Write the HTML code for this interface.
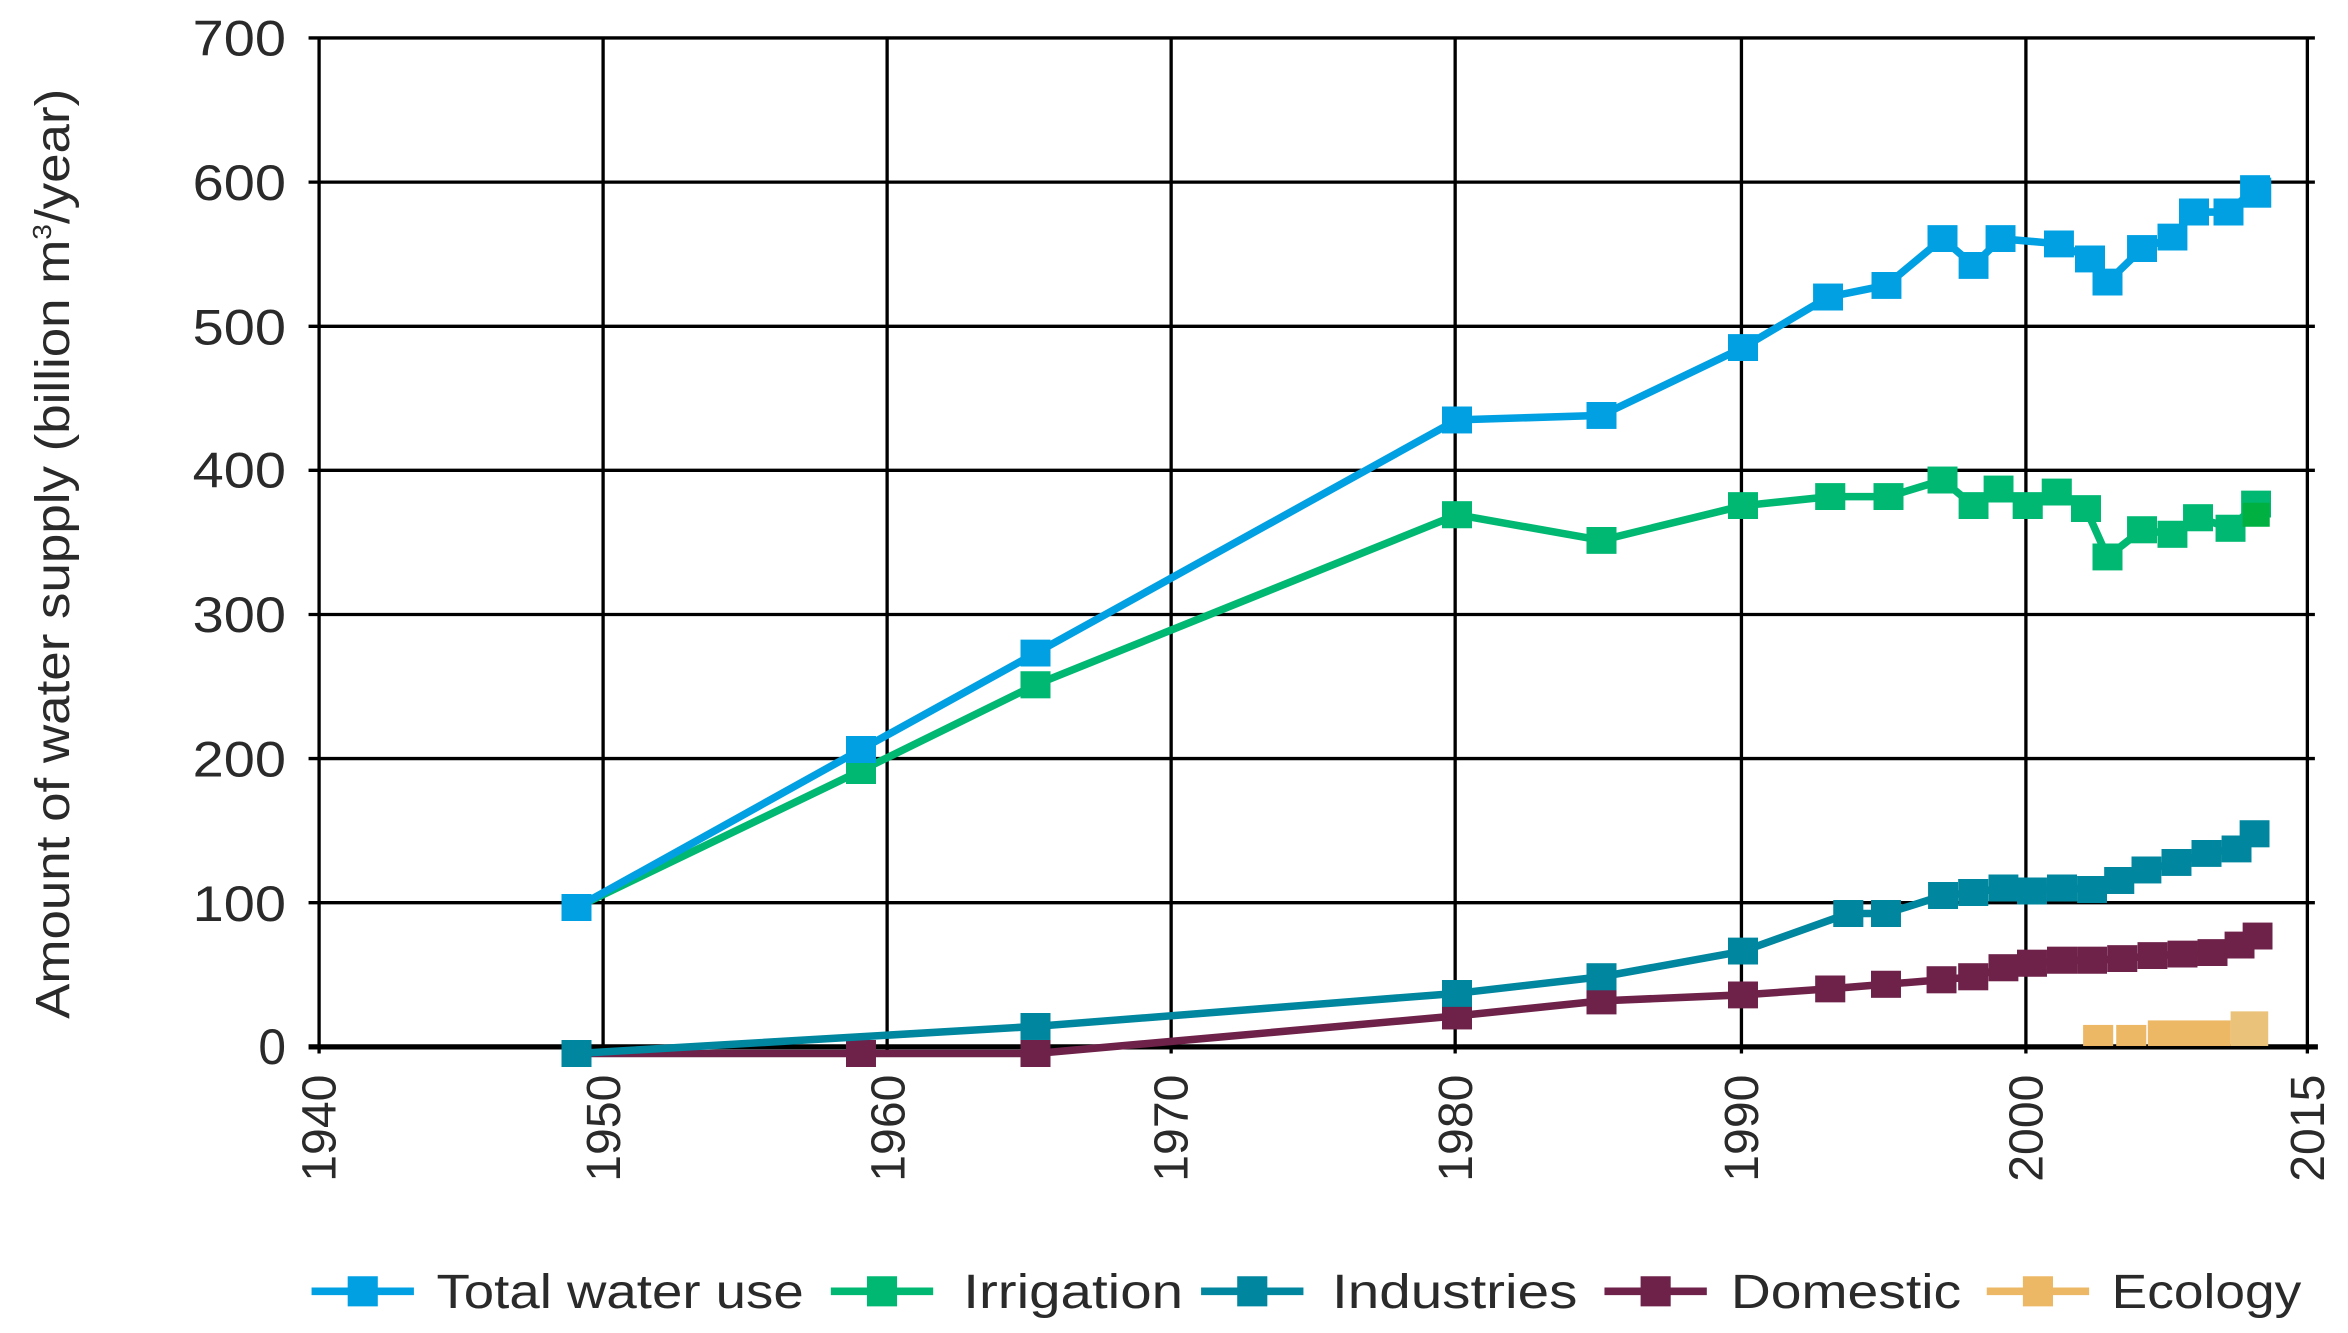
<!DOCTYPE html>
<html><head><meta charset="utf-8"><style>
html,body{margin:0;padding:0;background:#fff;}
svg{display:block;}
text{font-family:"Liberation Sans Narrow","Liberation Sans",sans-serif;fill:#2a2a2a;}
</style></head><body>
<svg width="2348" height="1333" viewBox="0 0 1560 885.7" preserveAspectRatio="none">
<defs>
<marker id="mb" viewBox="0 0 20 18" refX="10" refY="9" markerWidth="20" markerHeight="18" markerUnits="userSpaceOnUse"><rect width="20" height="18" fill="#00a0e3"/></marker>
<marker id="mg" viewBox="0 0 20 18" refX="10" refY="9" markerWidth="20" markerHeight="18" markerUnits="userSpaceOnUse"><rect width="20" height="18" fill="#00b872"/></marker>
<marker id="mi" viewBox="0 0 20 18" refX="10" refY="9" markerWidth="20" markerHeight="18" markerUnits="userSpaceOnUse"><rect width="20" height="18" fill="#00869e"/></marker>
<marker id="md" viewBox="0 0 20 18" refX="10" refY="9" markerWidth="20" markerHeight="18" markerUnits="userSpaceOnUse"><rect width="20" height="18" fill="#6e2249"/></marker>
</defs>
<g stroke="#000" stroke-width="2.2">
<line x1="205" y1="25.2" x2="1538" y2="25.2"/>
<line x1="205" y1="121" x2="1538" y2="121"/>
<line x1="205" y1="216.8" x2="1538" y2="216.8"/>
<line x1="205" y1="312.5" x2="1538" y2="312.5"/>
<line x1="205" y1="408.3" x2="1538" y2="408.3"/>
<line x1="205" y1="504" x2="1538" y2="504"/>
<line x1="205" y1="599.8" x2="1538" y2="599.8"/>
<line x1="212" y1="25.2" x2="212" y2="700"/>
<line x1="400.7" y1="25.2" x2="400.7" y2="700"/>
<line x1="589.4" y1="25.2" x2="589.4" y2="700"/>
<line x1="778.1" y1="25.2" x2="778.1" y2="700"/>
<line x1="966.8" y1="25.2" x2="966.8" y2="700"/>
<line x1="1157" y1="25.2" x2="1157" y2="700"/>
<line x1="1346" y1="25.2" x2="1346" y2="700"/>
<line x1="1533" y1="25.2" x2="1533" y2="700"/>
</g>
<line x1="205" y1="695.6" x2="1540" y2="695.6" stroke="#000" stroke-width="3.5"/>
<g font-size="33" text-anchor="end">
<text x="190" y="37" textLength="62" lengthAdjust="spacingAndGlyphs">700</text><text x="190" y="133" textLength="62" lengthAdjust="spacingAndGlyphs">600</text><text x="190" y="229" textLength="62" lengthAdjust="spacingAndGlyphs">500</text>
<text x="190" y="324" textLength="62" lengthAdjust="spacingAndGlyphs">400</text><text x="190" y="420" textLength="62" lengthAdjust="spacingAndGlyphs">300</text><text x="190" y="516" textLength="62" lengthAdjust="spacingAndGlyphs">200</text>
<text x="190" y="612" textLength="62" lengthAdjust="spacingAndGlyphs">100</text><text x="190" y="707">0</text>
</g>
<text font-size="32" text-anchor="middle" transform="translate(46,368) rotate(-90)" textLength="618" lengthAdjust="spacingAndGlyphs">Amount of water supply (billion m<tspan font-size="17" dy="-12">3</tspan><tspan dy="12">/year)</tspan></text>
<g font-size="32" text-anchor="end">
<text transform="translate(223,714) rotate(-90)">1940</text>
<text transform="translate(412,714) rotate(-90)">1950</text>
<text transform="translate(601,714) rotate(-90)">1960</text>
<text transform="translate(789,714) rotate(-90)">1970</text>
<text transform="translate(978,714) rotate(-90)">1980</text>
<text transform="translate(1168,714) rotate(-90)">1990</text>
<text transform="translate(1357,714) rotate(-90)">2000</text>
<text transform="translate(1544,714) rotate(-90)">2015</text>
</g>
<g fill="none" stroke-width="5" stroke-linejoin="round">
<polyline stroke="#6e2249" marker-start="url(#md)" marker-mid="url(#md)" marker-end="url(#md)" points="383,700 572,700 688,700 968,675 1064,665 1158,661 1216,657 1253,654 1290,651 1311,649 1331,643 1350,640 1370,638 1390,638 1410,637 1430,635 1450,634 1470,633 1488,628 1500,622"/>
<polyline stroke="#00869e" marker-start="url(#mi)" marker-mid="url(#mi)" marker-end="url(#mi)" points="383,700 688,682 968,660 1064,649 1158,632 1228,607 1253,607 1291,595 1311,593 1331,590 1350,592 1370,590 1390,591 1408,585 1426,578 1446,573 1466,567 1486,564 1498,554"/>
<polyline stroke="#00b872" marker-start="url(#mg)" marker-mid="url(#mg)" marker-end="url(#mg)" points="383,603 572,512 688,455 968,342 1064,359 1158,336 1216,330 1254.7,330 1290.6,319 1311.3,336 1327.9,325 1347.2,336 1366.5,327 1385.9,338 1400.2,370 1423.2,352 1443.3,355 1460.4,344 1482,351 1499,335"/>
<polyline stroke="#00a0e3" marker-start="url(#mb)" marker-mid="url(#mb)" marker-end="url(#mb)" points="383,603 572,498 688,434 968,279 1064,276 1158,231 1214.6,197.4 1253.3,189.6 1290.6,158.6 1311.3,176.3 1329.2,158.6 1367.9,162 1388.6,172 1400.2,187.5 1423.2,165.2 1443.3,157.6 1457.7,140.9 1480.6,140.9 1498.3,125.4"/>
</g>
<rect x="1490" y="334" width="18" height="16" fill="#00b040"/>
<rect x="1489" y="118" width="20" height="20" fill="#00a0e3"/>
<g fill="#edb865">
<rect x="1384" y="681" width="20" height="14"/><rect x="1406" y="681" width="20" height="14"/>
<rect x="1427" y="678" width="55" height="17"/><rect x="1482" y="672" width="25" height="23" fill="#eac27a"/>
</g>
<g stroke-width="5">
<line x1="207" y1="858" x2="275" y2="858" stroke="#00a0e3"/><rect x="231" y="848" width="20" height="20" fill="#00a0e3"/>
<line x1="552" y1="858" x2="620" y2="858" stroke="#00b872"/><rect x="576" y="848" width="20" height="20" fill="#00b872"/>
<line x1="798" y1="858" x2="866" y2="858" stroke="#00869e"/><rect x="822" y="848" width="20" height="20" fill="#00869e"/>
<line x1="1066" y1="858" x2="1134" y2="858" stroke="#6e2249"/><rect x="1090" y="848" width="20" height="20" fill="#6e2249"/>
<line x1="1320" y1="858" x2="1388" y2="858" stroke="#edb865"/><rect x="1344" y="848" width="20" height="20" fill="#edb865"/>
</g>
<g font-size="32">
<text x="290" y="869" textLength="244" lengthAdjust="spacingAndGlyphs">Total water use</text>
<text x="640" y="869" textLength="146" lengthAdjust="spacingAndGlyphs">Irrigation</text>
<text x="885" y="869" textLength="163" lengthAdjust="spacingAndGlyphs">Industries</text>
<text x="1150" y="869" textLength="153" lengthAdjust="spacingAndGlyphs">Domestic</text>
<text x="1403" y="869" textLength="126" lengthAdjust="spacingAndGlyphs">Ecology</text>
</g>
</svg>
</body></html>
